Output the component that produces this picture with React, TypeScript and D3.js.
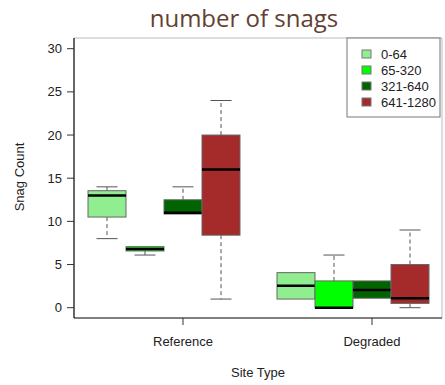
import React from "react";
import * as d3 from "d3";

const groups = ["Reference", "Degraded"];
const series = ["0-64", "65-320", "321-640", "641-1280"];
const colors = ["#90ee90", "#00ff00", "#006400", "#a52a2a"];
// [lower whisker, q1, median, q3, upper whisker]
const referenceStats = [
  [8, 10.5, 13, 13.55, 14],
  [6.1, 6.57, 6.8, 7.07, 7.07],
  [10.85, 10.85, 11, 12.5, 14],
  [1, 8.4, 16, 20, 24],
];
const degradedStats = [
  [1, 1, 2.55, 4.06, 4.06],
  [0, 0, 0, 3.1, 6.1],
  [1.1, 1.1, 2.05, 3.1, 3.1],
  [0, 0.5, 1.1, 5, 9],
];
const yTicks = [0, 5, 10, 15, 20, 25, 30];

const W = 445;
const H = 385;
const left = 74;
const right = 442;
const top = 38;
const bottom = 318;
const boxW = 38;

export default function App() {
  const y = d3.scaleLinear().domain([0, 30]).range([307.7, 48.7]);
  const x = d3.scalePoint<string>().domain(groups).range([183, 372]);
  const off = d3.scaleLinear().domain([0, 1]).range([0, boxW]);
  const statsByGroup = [referenceStats, degradedStats];
  const font = "'Liberation Sans', Arial, sans-serif";
  const txt = "#222";

  return (
    <div style={{ position: "absolute", left: 0, top: 0 }}>
      <svg width={W} height={H} style={{ display: "block", background: "#fff" }}>
        <text
          x={244}
          y={27}
          textAnchor="middle"
          fontFamily="'Open Sans', sans-serif"
          fontSize={24}
          fill="#634033"
        >
          number of snags
        </text>
        {/* plot frame */}
        <line x1={left} x2={right} y1={top} y2={top} stroke="#bbb" />
        <line x1={right} x2={right} y1={top} y2={bottom} stroke="#bbb" />
        {statsByGroup.map((stats, gi) =>
          stats.map((s, si) => {
            const cx = (x(groups[gi]) as number) + off(si - 2);
            const x0 = cx - boxW / 2;
            const [lo, q1, med, q3, hi] = s;
            const cap = boxW / 2 + 2;
            return (
              <g key={gi + "-" + si}>
                {hi > q3 && (
                  <>
                    <line x1={cx} x2={cx} y1={y(q3)} y2={y(hi)} stroke="#555" strokeDasharray="4,3" />
                    <line x1={cx - cap / 2} x2={cx + cap / 2} y1={y(hi)} y2={y(hi)} stroke="#555" />
                  </>
                )}
                {lo < q1 && (
                  <>
                    <line x1={cx} x2={cx} y1={y(q1)} y2={y(lo)} stroke="#555" strokeDasharray="4,3" />
                    <line x1={cx - cap / 2} x2={cx + cap / 2} y1={y(lo)} y2={y(lo)} stroke="#555" />
                  </>
                )}
                <rect
                  x={x0}
                  y={y(q3)}
                  width={boxW}
                  height={Math.max(y(q1) - y(q3), 0.5)}
                  fill={colors[si]}
                  stroke="#666"
                  strokeWidth={1}
                />
                <line x1={x0} x2={x0 + boxW} y1={y(med)} y2={y(med)} stroke="#000" strokeWidth={2.5} />
              </g>
            );
          })
        )}
        {/* axes */}
        <line x1={left} x2={left} y1={top} y2={bottom} stroke="#000" strokeWidth={1.2} />
        <line x1={left} x2={right} y1={bottom} y2={bottom} stroke="#000" strokeWidth={1.2} />
        {yTicks.map((t) => (
          <g key={t}>
            <line x1={67} x2={left} y1={y(t)} y2={y(t)} stroke="#333" />
            <text x={62} y={y(t)} dy="0.35em" textAnchor="end" fontFamily={font} fontSize={13} fill={txt}>
              {t}
            </text>
          </g>
        ))}
        {groups.map((g) => (
          <g key={g}>
            <line x1={x(g)} x2={x(g)} y1={bottom} y2={bottom + 7} stroke="#333" />
            <text x={x(g)} y={346} textAnchor="middle" fontFamily={font} fontSize={13} fill={txt}>
              {g}
            </text>
          </g>
        ))}
        <text x={258} y={377} textAnchor="middle" fontFamily={font} fontSize={13} fill={txt}>
          Site Type
        </text>
        <text
          transform="translate(24,177) rotate(-90)"
          textAnchor="middle"
          fontFamily={font}
          fontSize={13}
          fill={txt}
        >
          Snag Count
        </text>
        {/* legend */}
        <rect x={347} y={top} width={93} height={79} fill="#fff" stroke="#777" />
        {series.map((s, i) => (
          <g key={s}>
            <rect x={362} y={50 + i * 16} width={9} height={8} fill={colors[i]} stroke="#777" />
            <text x={381} y={54 + i * 16} dy="0.35em" fontFamily={font} fontSize={13} fill={txt}>
              {s}
            </text>
          </g>
        ))}
      </svg>
    </div>
  );
}
